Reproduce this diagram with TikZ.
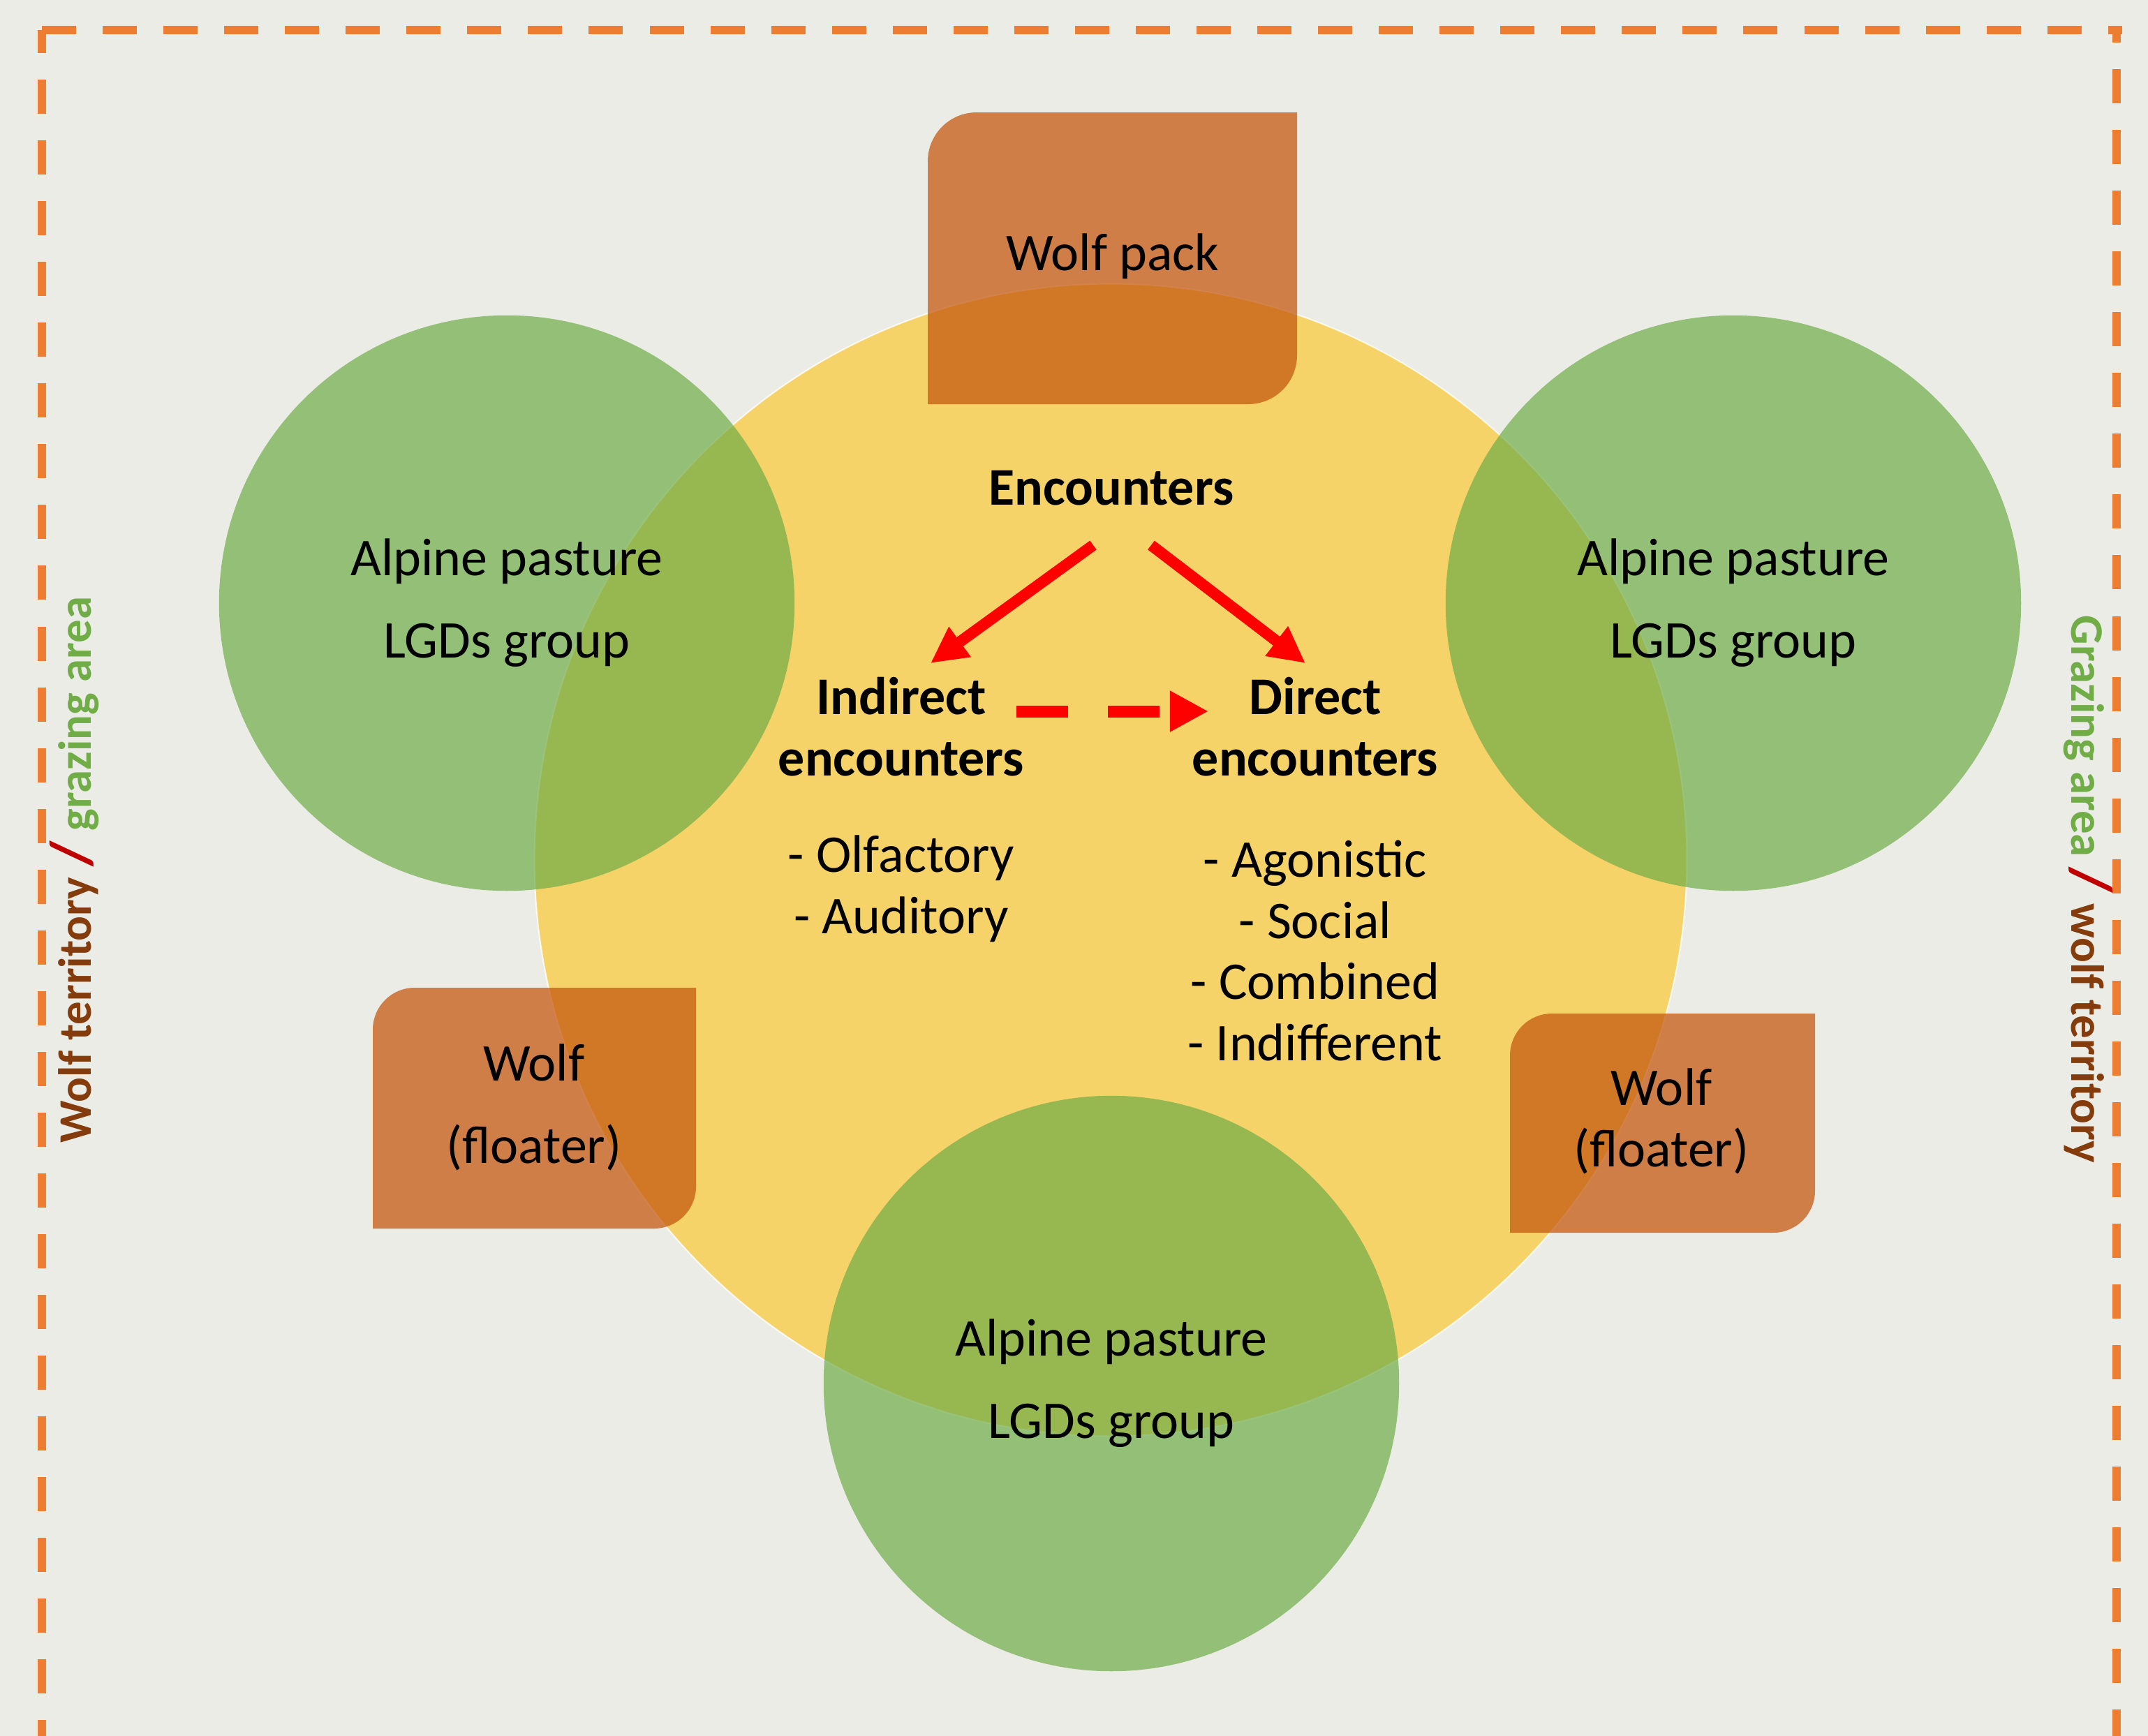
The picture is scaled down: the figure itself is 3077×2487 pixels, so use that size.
\documentclass[tikz,border=0pt]{standalone}
\usepackage{fontspec}
\setmainfont{Carlito}
\usetikzlibrary{arrows.meta}
\definecolor{bgc}{RGB}{236,236,231}
\definecolor{yel}{RGB}{255,192,0}
\definecolor{grn}{RGB}{112,173,71}
\definecolor{org}{RGB}{197,90,17}
\definecolor{bord}{RGB}{237,125,49}
\definecolor{brn}{RGB}{132,60,12}
\definecolor{slashred}{RGB}{192,0,0}
\definecolor{sidegrn}{RGB}{112,173,71}
\tikzset{
  lbl/.style={font=\fontsize{21.6}{33.5}\selectfont, align=center, inner sep=0pt, text=black},
  lbltight/.style={font=\fontsize{21.6}{25}\selectfont, align=center, inner sep=0pt, text=black},
  lblbold/.style={font=\fontsize{21.6}{25}\selectfont\bfseries, align=center, inner sep=0pt, text=black},
  sidetext/.style={font=\fontsize{19}{19}\selectfont\bfseries, inner sep=0pt},
  yellowdisc/.style={fill=yel, fill opacity=0.55, draw=white, draw opacity=0.8, line width=0.02cm},
  greendisc/.style={fill=grn, fill opacity=0.7},
  wolfbox/.style={fill=org, fill opacity=0.75},
  borderline/.style={draw=bord, line width=0.125cm, dash pattern=on 0.49cm off 0.38cm},
  redarrow/.style={draw=red, line width=0.16cm, -{Triangle[length=0.52cm,width=0.5cm]}},
  reddash/.style={draw=red, line width=0.17cm, dash pattern=on 0.74cm off 0.57cm, -{Triangle[length=0.55cm,width=0.55cm]}}
}
\newcommand{\rbox}[5]{% x1 y1 x2 y2 r : rounded top-left and bottom-right
  (#1,#4) -- (#1,#2+#5) .. controls (#1,#2+0.4477*#5) and (#1+0.4477*#5,#2) .. (#1+#5,#2)
  -- (#3,#2) -- (#3,#4-#5) .. controls (#3,#4-0.4477*#5) and (#3-0.4477*#5,#4) .. (#3-#5,#4) -- cycle}
\begin{document}
\begin{tikzpicture}[x=0.01cm,y=-0.01cm]
\useasboundingbox (0,0) rectangle (3077,2487);
\clip (0,0) rectangle (3077,2487);
\fill[bgc] (0,0) rectangle (3077,2487);

% dashed frame
\draw[borderline] (60,43) -- (3040,43);
\draw[borderline, dash phase=0.16cm] (60,43) -- (60,2600);
\draw[borderline, dash phase=0.31cm] (3032,43) -- (3032,2600);

% yellow encounter area
\path[yellowdisc] (1591,1232) circle[radius=8.25cm];

% green pastures
\path[greendisc] (726,864) circle[radius=4.12cm];
\path[greendisc] (2483,864) circle[radius=4.12cm];
\path[greendisc] (1592,1982) circle[radius=4.12cm];

% wolf boxes
\path[wolfbox] \rbox{1329}{161}{1858}{579}{70};
\path[wolfbox] \rbox{534}{1415}{997}{1760}{60};
\path[wolfbox] \rbox{2163}{1452}{2600}{1766}{60};

% texts
\node[lbl] (wp) at (1594,367) {Wolf pack};
\node[lbl] (wfl) at (765,1586) {Wolf\\(floater)};
\node[lbltight] (wfr) at (2380,1606) {Wolf\\(floater)};
\node[lbl] (apl) at (726,864) {Alpine pasture\\LGDs group};
\node[lbl] (apr) at (2483,864) {Alpine pasture\\LGDs group};
\node[lbl] (apb) at (1592,1982) {Alpine pasture\\LGDs group};

\node[lblbold] (enc) at (1592,699) {Encounters};
\node[lblbold] (ind) at (1291,1041) {Indirect\\encounters};
\node[lblbold] (dir) at (1884,1041) {Direct\\encounters};
\node[lbltight] (indl) at (1291,1273) {- Olfactory\\- Auditory};
\node[lbltight] (dirl) at (1884,1362) {- Agonistic\\- Social\\- Combined\\- Indifferent};

\node[sidetext, rotate=90] (lside) at (107,1246)
  {\textcolor{brn}{Wolf territory} \textcolor{slashred}{\fontsize{24}{24}\selectfont /} \textcolor{sidegrn}{grazing area}};
\node[sidetext, rotate=-90] (rside) at (2991,1274)
  {\textcolor{sidegrn}{Grazing area} \textcolor{slashred}{\fontsize{24}{24}\selectfont /} \textcolor{brn}{wolf territory}};

% arrows
\coordinate (a1s) at (1566,781);
\coordinate (a1e) at (1333,950);
\coordinate (a2s) at (1649,781);
\coordinate (a2e) at (1870,950);
\coordinate (a3s) at (1456,1019);
\coordinate (a3e) at (1731,1019);
\draw[redarrow] (a1s) -- (a1e);
\draw[redarrow] (a2s) -- (a2e);
\draw[reddash] (a3s) -- (a3e);
\end{tikzpicture}
\end{document}
